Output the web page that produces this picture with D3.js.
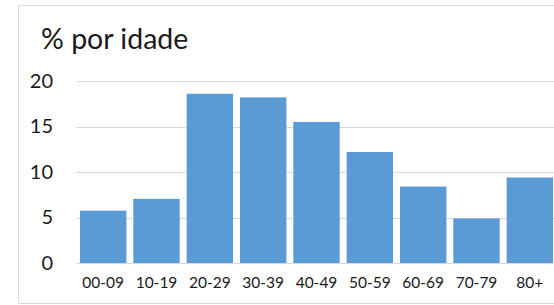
<!DOCTYPE html>
<html>
<head>
<meta charset="utf-8">
<script src="https://cdnjs.cloudflare.com/ajax/libs/d3/7.8.5/d3.min.js"></script>
<style>
	body { margin: 0; background: #fff; }
	svg { display: block; font-family: Lato, "Open Sans", sans-serif; }
</style>
</head>
<body>
<svg id="chart" width="554" height="305"></svg>
<script>
	'use strict';

	//chart data
	var ageGroups = ['00-09', '10-19', '20-29', '30-39', '40-49', '50-59', '60-69', '70-79', '80+'],
		percentValues = [5.75, 7.05, 18.6, 18.2, 15.5, 12.2, 8.4, 4.9, 9.4],
		yTicks = [0, 5, 10, 15, 20],
		chartTitle = '% por idade';

	var svg = d3.select('#chart'),
		plot = { left: 76.5, right: 556.5, top: 81, bottom: 263 };

	//frame
	svg.append('rect')
		.attr('x', 18.5).attr('y', 5.5)
		.attr('width', 560).attr('height', 298)
		.attr('fill', '#fff')
		.attr('stroke', '#d9d9d9');

	var x = d3.scaleBand()
		.domain(ageGroups)
		.range([plot.left, plot.right])
		.paddingInner(0.13)
		.paddingOuter(0.065);

	var y = d3.scaleLinear()
		.domain([0, 20])
		.range([plot.bottom, plot.top]);

	//gridlines
	svg.append('g')
		.selectAll('line')
		.data(yTicks)
		.join('line')
		.attr('x1', plot.left).attr('x2', 554)
		.attr('y1', function(d) { return Math.round(y(d)) + 0.5; })
		.attr('y2', function(d) { return Math.round(y(d)) + 0.5; })
		.attr('stroke', '#d9d9d9');

	//bars
	svg.append('g')
		.selectAll('rect')
		.data(percentValues)
		.join('rect')
		.attr('x', function(d, i) { return x(ageGroups[i]); })
		.attr('width', x.bandwidth())
		.attr('y', function(d) { return y(d); })
		.attr('height', function(d) { return y(0) - y(d); })
		.attr('fill', '#5b9bd5');

	//y axis labels
	var yAxis = d3.axisLeft(y).tickValues(yTicks).tickSize(0).tickPadding(0);
	svg.append('g')
		.attr('transform', 'translate(53,0)')
		.call(yAxis)
		.call(function(g) { g.select('.domain').remove(); })
		.selectAll('text')
		.attr('font-family', 'Lato, "Open Sans", sans-serif')
		.attr('font-size', 20)
		.attr('fill', '#1a1a1a');

	//x axis labels
	var xAxis = d3.axisBottom(x).tickSize(0).tickPadding(14);
	svg.append('g')
		.attr('transform', 'translate(0,' + plot.bottom + ')')
		.call(xAxis)
		.call(function(g) { g.select('.domain').remove(); })
		.selectAll('text')
		.attr('font-family', 'Lato, "Open Sans", sans-serif')
		.attr('font-size', 15.5)
		.attr('fill', '#1a1a1a');

	//title
	svg.append('text')
		.attr('x', 41).attr('y', 49)
		.attr('font-size', 28.5)
		.attr('fill', '#1a1a1a')
		.text(chartTitle);
</script>
</body>
</html>
